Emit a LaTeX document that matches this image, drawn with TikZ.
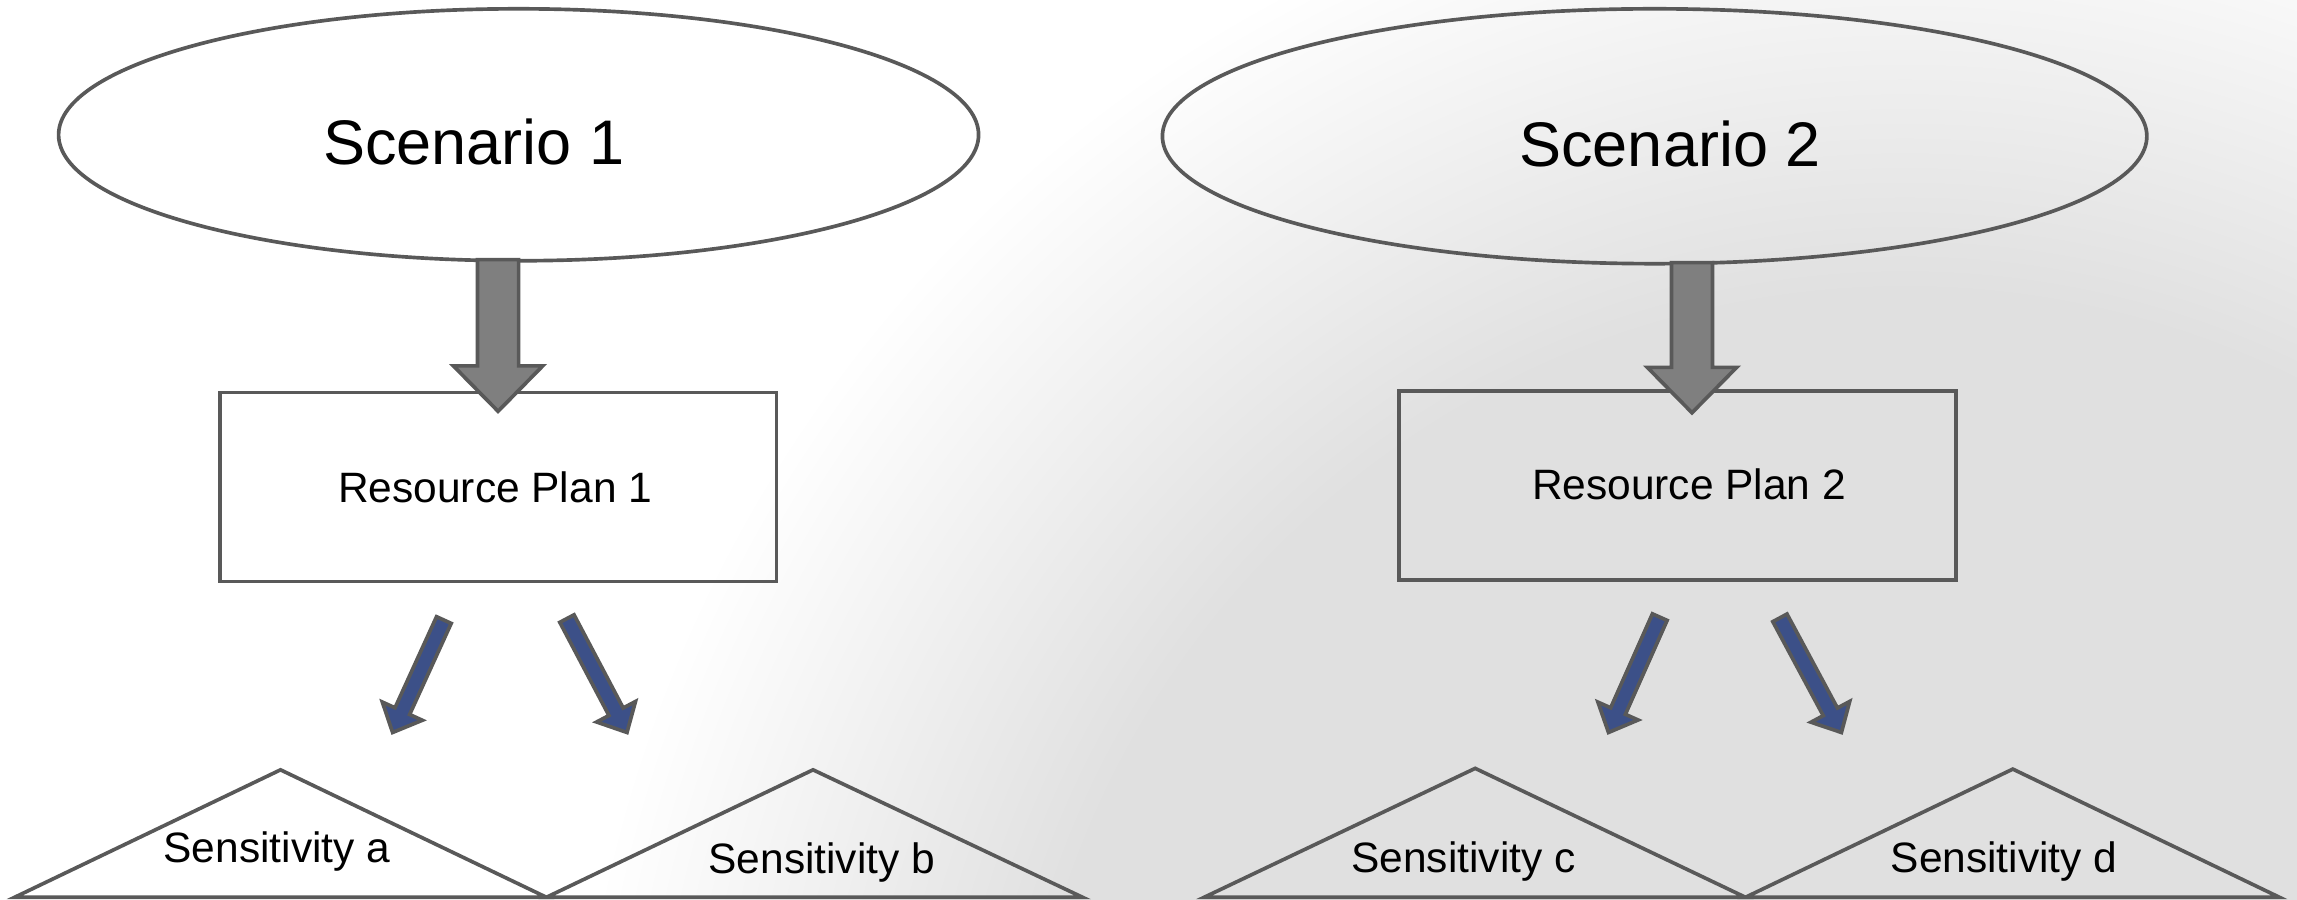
\documentclass[tikz,border=0pt]{standalone}
\usepackage{fontspec}
\setmainfont{Liberation Sans}
\usetikzlibrary{shapes.geometric,calc}
\definecolor{edge}{RGB}{89,89,89}
\definecolor{shaft}{RGB}{127,127,127}
\definecolor{plan}{RGB}{60,80,136}
\definecolor{bgshade}{RGB}{224,224,224}
% fundo degrade
\pgfdeclareradialshading{bgrad}{\pgfpoint{0bp}{0bp}}{color(0bp)=(bgshade); color(12.5bp)=(bgshade); color(19bp)=(white); color(50bp)=(white)}

% seta larga: estilo, origem, ponta, meia largura, meia cabeca, comprimento da cabeca
\newcommand{\blockarrow}[6][]{%
\path ($(#3)!#6!(#2)$) coordinate (hb);
\draw[#1] ($(#2)!#4!90:(#3)$) -- ($(hb)!#4!90:(#3)$) -- ($(hb)!#5!90:(#3)$) -- (#3)
	-- ($(hb)!#5!-90:(#3)$) -- ($(hb)!#4!-90:(#3)$) -- ($(#2)!#4!-90:(#3)$) -- cycle;
}

\begin{document}
\begin{tikzpicture}[x=1pt, y=-1pt,
					line width=2.5pt, % espessura das linhas
					scen/.style={ellipse, draw=edge, minimum width=628pt, minimum height=172pt},
					scentext/.style={font=\fontsize{43}{50}\selectfont},
					plannode/.style={draw=edge, minimum width=380pt, minimum height=129pt},
					smalltext/.style={font=\fontsize{29}{34}\selectfont},
					% cor das setas cinzas
					downarrow/.style={draw=edge, fill=shaft},
					% cor das setas azuis
					splitarrow/.style={draw=edge, fill=plan},
					sens/.style={draw=edge, line join=miter}]
% fundo
\useasboundingbox (0,0) rectangle (1568,614);
\begin{scope}
\clip (0,0) rectangle (1568,614);
\fill[white] (0,0) rectangle (1568,614);
\shade[shading=bgrad] (1300,800) circle (1200);
\end{scope}

\node[scen, label={[scentext, xshift=-30.5pt, yshift=-5pt]center:Scenario 1}] (s1) at (354,92) {};
\node[scen, minimum width=672pt, minimum height=174pt, label={[scentext, xshift=10.5pt, yshift=-5pt]center:Scenario 2}] (s2) at (1129.5,93) {};

\node[plannode, label={[smalltext, xshift=-2pt]center:Resource Plan 1}] (p1) at (340,332.5) {};
\node[plannode, label={[smalltext, xshift=8pt, yshift=1pt]center:Resource Plan 2}] (p2) at (1145,331.5) {};

% setas cinzas
\coordinate (g1) at ($(s1.south -| p1.north)+(0,-2)$);
\coordinate (g1t) at ($(p1.north)+(0,14)$);
\blockarrow[downarrow]{g1}{g1t}{14pt}{30.5pt}{31pt}
\coordinate (g2) at ($(s2.south -| p2.north)+(10,-2)$);
\coordinate (g2t) at ($(p2.north)+(10,16)$);
\blockarrow[downarrow]{g2}{g2t}{14pt}{30.5pt}{31pt}

% setas azuis
\coordinate (b1) at ($(p1.south)+(-37,25)$);
\coordinate (b1t) at (268,500);
\coordinate (b2) at ($(p1.south)+(47,24)$);
\coordinate (b2t) at (428,500);
\coordinate (b3) at ($(p2.south)+(-12,24)$);
\coordinate (b3t) at (1098,500);
\coordinate (b4) at ($(p2.south)+(70,24.5)$);
\coordinate (b4t) at (1257,500);
\blockarrow[splitarrow]{b1}{b1t}{5.5pt}{15pt}{16pt}
\blockarrow[splitarrow]{b2}{b2t}{5.5pt}{15pt}{16pt}
\blockarrow[splitarrow]{b3}{b3t}{5.5pt}{15pt}{16pt}
\blockarrow[splitarrow]{b4}{b4t}{5.5pt}{15pt}{16pt}

% triangulos
\draw[sens] (10,612.5) -- (191.5,525.5) -- (373,612.5) -- cycle;
\draw[sens] (373,612.5) -- (555,525.5) -- (739,612.5) -- cycle;
\draw[sens] (822,612.5) -- (1007,524.5) -- (1191.5,612.5) -- cycle;
\draw[sens] (1191.5,612.5) -- (1374,525) -- (1556,612.5) -- cycle;
\node[smalltext] (sa) at (189,581.5) {Sensitivity a};
\node[smalltext] (sb) at (561,588.5) {Sensitivity b};
\node[smalltext] (sc) at (999,588) {Sensitivity c};
\node[smalltext] (sd) at (1368,588) {Sensitivity d};
\end{tikzpicture}
\end{document}
